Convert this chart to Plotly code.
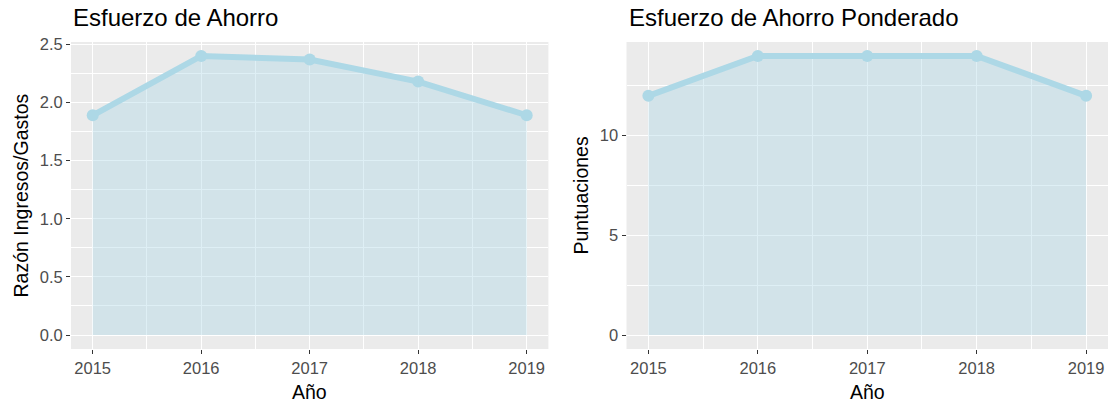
import plotly.graph_objects as go

years = [2015, 2016, 2017, 2018, 2019]
razon = [1.89, 2.40, 2.37, 2.18, 1.89]
puntuaciones = [12, 14, 14, 14, 12]

title_left = "Esfuerzo de Ahorro"
title_right = "Esfuerzo de Ahorro Ponderado"
ylab_left = "Razón Ingresos/Gastos"
ylab_right = "Puntuaciones"
xlab = "Año"

LINE = "#ADD8E6"
FILL = "rgba(173,216,230,0.4)"
FONT = "Liberation Sans, Arial, sans-serif"

W, H = 1109, 406
ML, MR, MT, MB = 71, 1, 41.7, 56.5
PW = W - ML - MR
PH = H - MT - MB

def px_x(p):
    return (p - ML) / PW

def px_y(p):
    return 1 - (p - MT) / PH

fig = go.Figure()
for vals, xa, ya in [(razon, "x", "y"), (puntuaciones, "x2", "y2")]:
    fig.add_trace(go.Scatter(
        x=years, y=vals, xaxis=xa, yaxis=ya, mode="lines+markers",
        fill="tozeroy", fillcolor=FILL,
        line=dict(color=LINE, width=6),
        marker=dict(color=LINE, size=12),
        showlegend=False, hoverinfo="skip",
    ))

d1 = (0, px_x(548.4))
d2 = (px_x(626.5), 1)

common_x = dict(
    range=[2014.8, 2019.2], tickmode="array", tickvals=years,
    ticktext=[str(y) for y in years],
    showgrid=True, gridcolor="white", gridwidth=1.1,
    minor=dict(dtick=0.5, tick0=2015, showgrid=True, gridcolor="white", gridwidth=0.55),
    ticks="outside", ticklen=4, tickwidth=1.1, tickcolor="#333333",
    tickfont=dict(family=FONT, size=16.5, color="#4D4D4D"),
    zeroline=False, showline=False, fixedrange=True,
)
common_y = dict(
    showgrid=True, gridcolor="white", gridwidth=1.1,
    ticks="outside", ticklen=4, tickwidth=1.1, tickcolor="#333333",
    tickfont=dict(family=FONT, size=16.5, color="#4D4D4D"),
    zeroline=False, showline=False, fixedrange=True,
)

fig.update_layout(
    width=W, height=H,
    margin=dict(l=ML, r=MR, t=MT, b=MB, pad=0),
    paper_bgcolor="white", plot_bgcolor="#EBEBEB",
    font=dict(family=FONT, color="black"),
    xaxis=dict(domain=list(d1), anchor="y", **common_x),
    xaxis2=dict(domain=list(d2), anchor="y2", **common_x),
    yaxis=dict(domain=[0, 1], anchor="x", range=[-0.12, 2.52], tickmode="linear",
               tick0=0, dtick=0.5, tickformat=".1f",
               minor=dict(dtick=0.25, tick0=0, showgrid=True, gridcolor="white", gridwidth=0.55),
               **common_y),
    yaxis2=dict(domain=[0, 1], anchor="x2", range=[-0.7, 14.7], tickmode="linear",
                tick0=0, dtick=5,
                minor=dict(dtick=2.5, tick0=0, showgrid=True, gridcolor="white", gridwidth=0.55),
                **common_y),
)

ann = []
ann.append(dict(text=title_left, x=d1[0], y=px_y(17), xref="paper", yref="paper",
                xanchor="left", yanchor="middle", showarrow=False,
                font=dict(family=FONT, size=24, color="black")))
ann.append(dict(text=title_right, x=d2[0], y=px_y(17), xref="paper", yref="paper",
                xanchor="left", yanchor="middle", showarrow=False,
                font=dict(family=FONT, size=24, color="black")))
ann.append(dict(text=ylab_left, x=px_x(20), y=0.5, xref="paper", yref="paper",
                xanchor="center", yanchor="middle", textangle=-90, showarrow=False,
                font=dict(family=FONT, size=19.5, color="black")))
ann.append(dict(text=ylab_right, x=px_x(580), y=0.5, xref="paper", yref="paper",
                xanchor="center", yanchor="middle", textangle=-90, showarrow=False,
                font=dict(family=FONT, size=19.5, color="black")))
ann.append(dict(text=xlab, x=(d1[0] + d1[1]) / 2, y=px_y(393), xref="paper", yref="paper",
                xanchor="center", yanchor="middle", showarrow=False,
                font=dict(family=FONT, size=19.5, color="black")))
ann.append(dict(text=xlab, x=(d2[0] + d2[1]) / 2, y=px_y(393), xref="paper", yref="paper",
                xanchor="center", yanchor="middle", showarrow=False,
                font=dict(family=FONT, size=19.5, color="black")))
fig.update_layout(annotations=ann)

fig.write_html("out.html", config={"displayModeBar": False},
               post_script="document.body.style.margin='0';")
